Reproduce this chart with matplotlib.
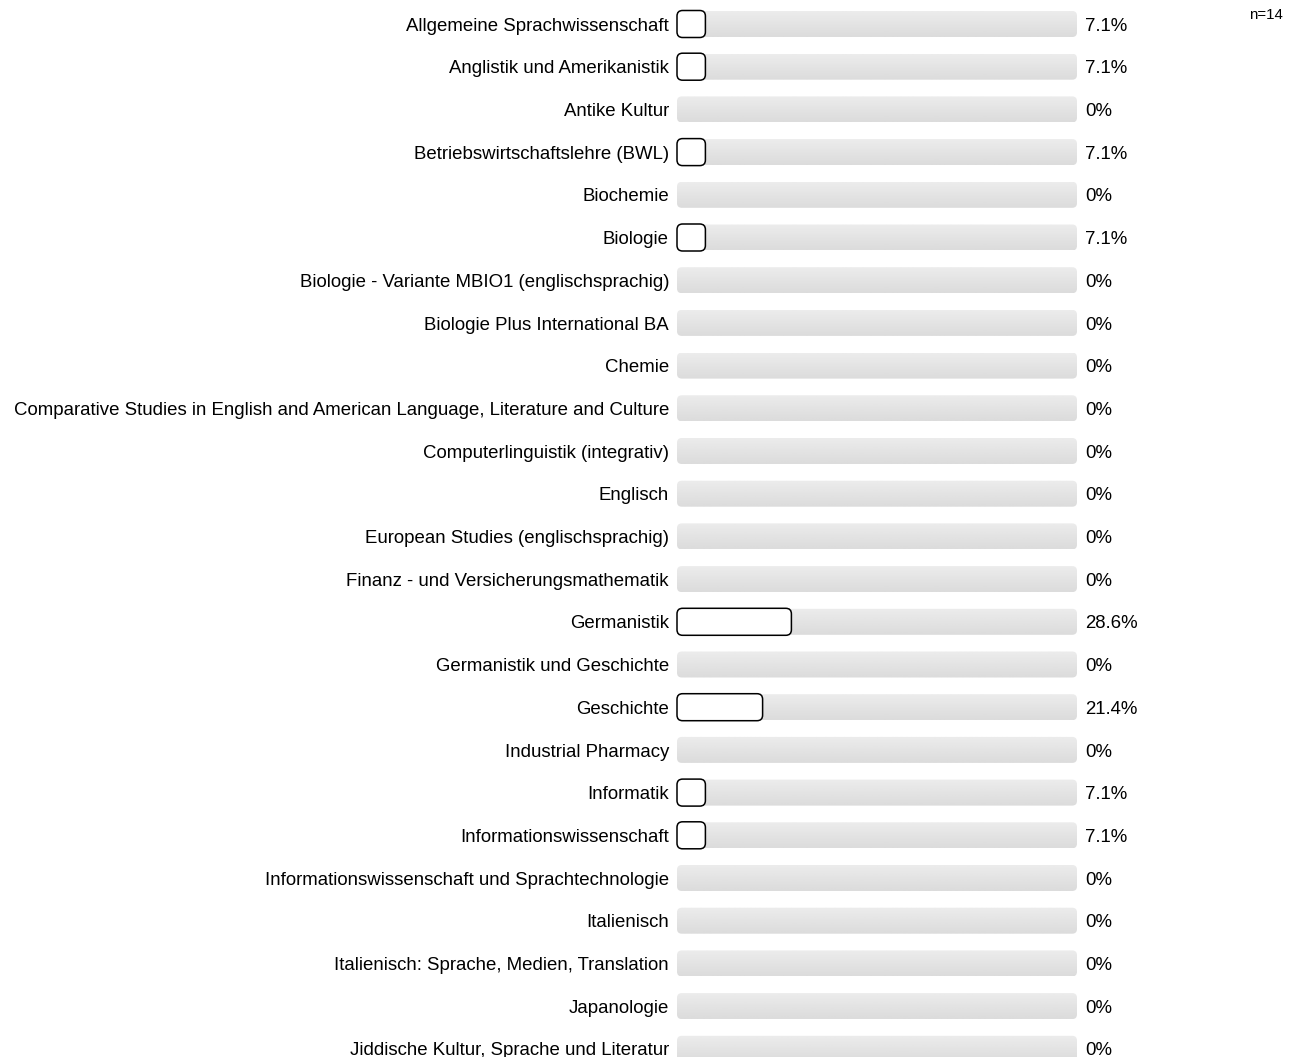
import numpy as np
import matplotlib.pyplot as plt
from matplotlib.patches import FancyBboxPatch

plt.rcParams['font.family'] = ['Liberation Sans', 'DejaVu Sans']

categories = [
    'Allgemeine Sprachwissenschaft',
    'Anglistik und Amerikanistik',
    'Antike Kultur',
    'Betriebswirtschaftslehre (BWL)',
    'Biochemie',
    'Biologie',
    'Biologie - Variante MBIO1 (englischsprachig)',
    'Biologie Plus International BA',
    'Chemie',
    'Comparative Studies in English and American Language, Literature and Culture',
    'Computerlinguistik (integrativ)',
    'Englisch',
    'European Studies (englischsprachig)',
    'Finanz - und Versicherungsmathematik',
    'Germanistik',
    'Germanistik und Geschichte',
    'Geschichte',
    'Industrial Pharmacy',
    'Informatik',
    'Informationswissenschaft',
    'Informationswissenschaft und Sprachtechnologie',
    'Italienisch',
    'Italienisch: Sprache, Medien, Translation',
    'Japanologie',
    'Jiddische Kultur, Sprache und Literatur',
]
values = [7.1, 7.1, 0, 7.1, 0, 7.1, 0, 0, 0, 0, 0, 0, 0, 0,
          28.6, 0, 21.4, 0, 7.1, 7.1, 0, 0, 0, 0, 0]
n_total = 14

W, H = 1289, 1057
x0_px, px_per_pct = 677, 4.0
y0_px, row_px = 24, 42.7

fig = plt.figure(figsize=(W / 100, H / 100), dpi=100)
ax = fig.add_axes([0, 0, 1, 1])
ax.set_xlim(-x0_px / px_per_pct, (W - x0_px) / px_per_pct)
ax.set_ylim((H - y0_px) / row_px, -y0_px / row_px)
ax.axis('off')

aspect = px_per_pct / row_px
bg_h = 26 / row_px
fg_h = 27 / row_px
grad = np.linspace(0.925, 0.86, 50).reshape(-1, 1)

for i, (cat, v) in enumerate(zip(categories, values)):
    # grauer Hintergrundbalken mit Verlauf
    bg = FancyBboxPatch((0, i - bg_h / 2), 100, bg_h,
                        boxstyle='round,pad=0,rounding_size=1.2',
                        mutation_aspect=aspect, facecolor='none',
                        edgecolor='none')
    ax.add_patch(bg)
    im = ax.imshow(grad, cmap='gray', vmin=0, vmax=1, aspect='auto',
                   extent=(0, 100, i + bg_h / 2, i - bg_h / 2),
                   interpolation='bilinear', zorder=1)
    im.set_clip_path(bg)
    if v > 0:
        fg = FancyBboxPatch((0, i - fg_h / 2), v, fg_h,
                            boxstyle='round,pad=0,rounding_size=1.4',
                            mutation_aspect=aspect, facecolor='white',
                            edgecolor='black', linewidth=1.1, zorder=2)
        ax.add_patch(fg)
    ax.text(-2, i + 0.05, cat, ha='right', va='center', fontsize=13.4, color='black')
    lbl = '0%' if v == 0 else f'{v:.1f}%'
    ax.text(102.1, i + 0.05, lbl, ha='left', va='center', fontsize=13.4, color='black')

ax.text((1283 - x0_px) / px_per_pct, (15 - y0_px) / row_px, f'n={n_total}',
        ha='right', va='center', fontsize=10.8, color='black')

fig.savefig('out.png', dpi=100)
